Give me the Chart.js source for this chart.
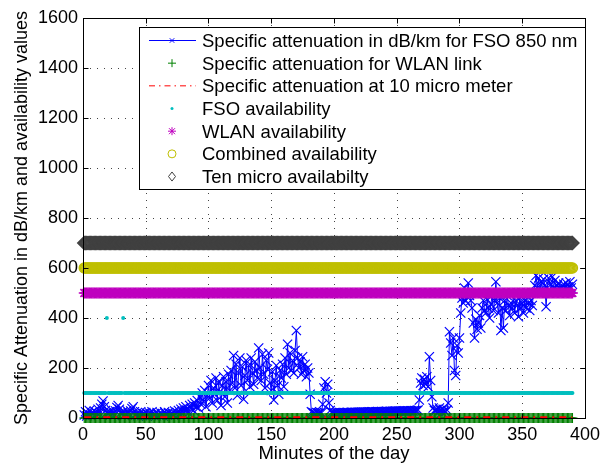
<!DOCTYPE html>
<html>
<head>
<meta charset="utf-8">
<script src="https://cdn.jsdelivr.net/npm/chart.js@4"></script>
<style>
  body { margin: 0; background: #fff; }
  canvas { display: block; }
</style>
</head>
<body>
<canvas id="chart" width="606" height="469"></canvas>
<script>
// specific attenuation for FSO 850 nm, one value per minute (minute 1 .. 390)
var fsoAtten = [
  12, 25, 8, 18, 30, 10, 22, 15, 28, 12,
  20, 35, 18, 40, 55, 68, 45, 30, 22, 15,
  25, 12, 30, 18, 10, 28, 42, 50, 35, 20,
  15, 25, 10, 18, 30, 22, 12, 28, 38, 45,
  25, 12, 20, 8, 15, 25, 10, 18, 12, 22,
  8, 15, 20, 10, 25, 12, 18, 8, 22, 15,
  10, 20, 14, 8, 25, 18, 12, 22, 10, 16,
  20, 12, 28, 15, 22, 30, 18, 35, 25, 40,
  28, 45, 32, 20, 50, 38, 55, 30, 60, 45,
  70, 40, 85, 55, 100, 65, 110, 45, 90, 130,
  80, 150, 60, 120, 95, 160, 70, 140, 105, 50,
  130, 165, 85, 145, 60, 175, 110, 190, 140, 250,
  120, 215, 90, 180, 240, 130, 205, 75, 170, 230,
  150, 210, 125, 240, 180, 135, 225, 190, 160, 280,
  200, 150, 255, 175, 120, 230, 195, 260, 140, 110,
  185, 72, 150, 210, 130, 95, 190, 160, 215, 125,
  240, 175, 295, 200, 260, 190, 230, 180, 270, 350,
  240, 200, 225, 175, 245, 190, 215, 165, 200, 180,
  95, 25, 22, 20, 18, 22, 20, 19, 21, 20,
  55, 120, 145, 100, 135, 60, 30, 22, 20, 21,
  20, 21, 20, 22, 21, 20, 21, 22, 21, 22,
  22, 21, 22, 23, 22, 22, 23, 22, 23, 23,
  23, 24, 23, 24, 24, 23, 24, 25, 24, 25,
  25, 24, 25, 25, 26, 25, 25, 26, 25, 26,
  26, 27, 26, 26, 27, 26, 27, 27, 28, 27,
  27, 28, 28, 27, 28, 29, 28, 28, 29, 28,
  29, 29, 28, 30, 29, 30, 32, 72, 140, 160,
  130, 155, 135, 165, 125, 245, 150, 85, 40, 30,
  28, 35, 25, 40, 30, 22, 35, 28, 25, 32,
  60, 345, 300, 250, 320, 190, 170, 290, 260, 320,
  420, 480, 460, 520, 470, 500, 540, 490, 470, 440,
  380, 320, 395, 355, 380, 410, 360, 440, 470, 430,
  420, 475, 440, 400, 455, 490, 430, 470, 545, 460,
  420, 480, 350, 440, 360, 470, 430, 490, 450, 410,
  460, 440, 500, 420, 470, 450, 405, 480, 440, 460,
  420, 470, 440, 490, 460, 430, 470, 450, 500, 530,
  570, 520, 560, 500, 545, 510, 555, 530, 445, 520,
  560, 540, 505, 565, 520, 550, 510, 530, 540, 515,
  525, 510, 535, 520, 540, 515, 525, 545, 520, 535
];

// the other series hold a level over runs of minutes: [first minute, last minute, value]
var wlanAttenRuns = [[1, 390, 0]];
var tenMicroAttenRuns = [[1, 390, 3]];
var fsoAvailRuns = [[1, 18, 100], [19, 19, 400], [20, 31, 100], [32, 32, 400], [33, 390, 100]];
var wlanAvailRuns = [[1, 390, 500]];
var combinedAvailRuns = [[1, 390, 600]];
var tenMicroAvailRuns = [[1, 390, 700]];

var seriesNames = [
  'Specific attenuation in dB/km for FSO 850 nm',
  'Specific attenuation for WLAN link',
  'Specific attenuation at 10 micro meter',
  'FSO availability',
  'WLAN availability',
  'Combined availability',
  'Ten micro availabilty'
];

var xTicks = [0, 50, 100, 150, 200, 250, 300, 350, 400];
var yTicks = [0, 200, 400, 600, 800, 1000, 1200, 1400, 1600];

var FONT = "'Liberation Sans', Arial, sans-serif";

function expandRuns(runs) {
  var out = [];
  runs.forEach(function (r) {
    for (var m = r[0]; m <= r[1]; m++) out.push({ x: m, y: r[2] });
  });
  return out;
}

var fsoPoints = fsoAtten.map(function (v, i) { return { x: i + 1, y: v }; });

// marker shapes used in the legend box
function drawMarker(ctx, kind, x, y, r, color) {
  ctx.save();
  ctx.strokeStyle = color;
  ctx.fillStyle = color;
  ctx.lineWidth = 1;
  ctx.setLineDash([]);
  ctx.beginPath();
  if (kind === 'x' || kind === '*') {
    var d = r * 0.75;
    ctx.moveTo(x - d, y - d); ctx.lineTo(x + d, y + d);
    ctx.moveTo(x - d, y + d); ctx.lineTo(x + d, y - d);
  }
  if (kind === '+' || kind === '*') {
    ctx.moveTo(x - r, y); ctx.lineTo(x + r, y);
    ctx.moveTo(x, y - r); ctx.lineTo(x, y + r);
  }
  if (kind === 'o') {
    ctx.arc(x, y, r, 0, Math.PI * 2);
  }
  if (kind === 'd') {
    ctx.moveTo(x, y - r * 1.3); ctx.lineTo(x + r, y);
    ctx.lineTo(x, y + r * 1.3); ctx.lineTo(x - r, y); ctx.closePath();
  }
  if (kind === '.') {
    ctx.arc(x, y, r, 0, Math.PI * 2);
    ctx.fill();
  } else {
    ctx.stroke();
  }
  ctx.restore();
}

var legendRows = [
  { line: '#0000ff', dash: [], marker: 'x', r: 3, color: '#0000ff' },
  { line: null, marker: '+', r: 4, color: '#008000' },
  { line: '#ff0000', dash: [6, 4, 1.5, 4], marker: null, color: '#ff0000' },
  { line: null, marker: '.', r: 1.5, color: '#00bfbf' },
  { line: null, marker: '*', r: 4, color: '#bf00bf' },
  { line: null, marker: 'o', r: 4, color: '#bfbf00' },
  { line: null, marker: 'd', r: 3.5, color: '#404040' }
];

var matlabAxes = {
  id: 'matlabAxes',
  beforeDatasetsDraw: function (chart) {
    var ctx = chart.ctx, a = chart.chartArea;
    var xs = chart.scales.x, ys = chart.scales.y;
    ctx.save();
    ctx.strokeStyle = '#444';
    ctx.lineWidth = 1;
    ctx.setLineDash([1, 6]);
    xTicks.forEach(function (v) {
      if (v <= xs.min || v >= xs.max) return;
      var px = Math.round(xs.getPixelForValue(v)) + 0.5;
      ctx.beginPath(); ctx.moveTo(px, a.bottom); ctx.lineTo(px, a.top); ctx.stroke();
    });
    yTicks.forEach(function (v) {
      if (v <= ys.min || v >= ys.max) return;
      var py = Math.round(ys.getPixelForValue(v)) + 0.5;
      ctx.beginPath(); ctx.moveTo(a.left, py); ctx.lineTo(a.right, py); ctx.stroke();
    });
    ctx.restore();
  },
  afterDatasetsDraw: function (chart) {
    var ctx = chart.ctx, a = chart.chartArea;
    var xs = chart.scales.x, ys = chart.scales.y;
    var L = Math.round(a.left) + 0.5, R = Math.round(a.right) + 0.5;
    var T = Math.round(a.top) + 0.5, B = Math.round(a.bottom) + 0.5;
    ctx.save();
    ctx.strokeStyle = '#000';
    ctx.lineWidth = 1;
    ctx.strokeRect(L, T, R - L, B - T);
    // inward tick marks on all four sides
    ctx.beginPath();
    xTicks.forEach(function (v) {
      var px = Math.round(xs.getPixelForValue(v)) + 0.5;
      ctx.moveTo(px, B); ctx.lineTo(px, B - 5);
      ctx.moveTo(px, T); ctx.lineTo(px, T + 5);
    });
    yTicks.forEach(function (v) {
      var py = Math.round(ys.getPixelForValue(v)) + 0.5;
      ctx.moveTo(L, py); ctx.lineTo(L + 5, py);
      ctx.moveTo(R, py); ctx.lineTo(R - 5, py);
    });
    ctx.stroke();
    ctx.restore();
  },
  afterDraw: function (chart) {
    var ctx = chart.ctx;
    var box = { x: 139.5, y: 27.5, w: 446, h: 162 };
    ctx.save();
    ctx.fillStyle = '#fff';
    ctx.fillRect(box.x, box.y, box.w, box.h);
    ctx.strokeStyle = '#000';
    ctx.lineWidth = 1;
    ctx.strokeRect(box.x, box.y, box.w, box.h);
    ctx.font = '18.5px ' + FONT;
    ctx.textBaseline = 'alphabetic';
    ctx.textAlign = 'left';
    legendRows.forEach(function (row, i) {
      var base = 47 + i * 22.67;
      var my = base - 6.5;
      if (row.line) {
        ctx.save();
        ctx.strokeStyle = row.line;
        ctx.lineWidth = 1;
        ctx.setLineDash(row.dash);
        ctx.beginPath(); ctx.moveTo(149, my); ctx.lineTo(196, my); ctx.stroke();
        ctx.restore();
      }
      if (row.marker) drawMarker(ctx, row.marker, 172, my, row.r, row.color);
      ctx.fillStyle = '#000';
      ctx.fillText(seriesNames[i], 202, base);
    });
    ctx.restore();
  }
};

var ctx = document.getElementById('chart');
var chart = new Chart(ctx, {
  type: 'line',
  data: {
    datasets: [{
      label: seriesNames[0],
      data: fsoPoints,
      borderColor: '#0000ff',
      borderWidth: 1,
      pointStyle: 'crossRot',
      pointRadius: 6.5,
      pointBorderWidth: 1.2,
      pointBorderColor: '#0000ff',
      tension: 0,
      clip: false,
      order: 6
    }, {
      label: seriesNames[1],
      data: expandRuns(wlanAttenRuns),
      showLine: false,
      pointStyle: 'cross',
      pointRadius: 5,
      pointBorderWidth: 1.2,
      pointBorderColor: '#008000',
      clip: false,
      order: 5
    }, {
      label: seriesNames[2],
      data: expandRuns(tenMicroAttenRuns),
      borderColor: '#ff0000',
      borderWidth: 2,
      borderDash: [7, 5, 2, 5],
      pointRadius: 0,
      clip: false,
      order: 4
    }, {
      label: seriesNames[3],
      data: expandRuns(fsoAvailRuns),
      showLine: false,
      pointStyle: 'circle',
      pointRadius: 2,
      pointBorderWidth: 0,
      pointBackgroundColor: '#00bfbf',
      clip: false,
      order: 3
    }, {
      label: seriesNames[4],
      data: expandRuns(wlanAvailRuns),
      showLine: false,
      pointStyle: 'star',
      pointRadius: 5.5,
      pointBorderWidth: 1.5,
      pointBorderColor: '#bf00bf',
      clip: false,
      order: 2
    }, {
      label: seriesNames[5],
      data: expandRuns(combinedAvailRuns),
      showLine: false,
      pointStyle: 'circle',
      pointRadius: 5,
      pointBorderWidth: 1.5,
      pointBorderColor: '#bfbf00',
      pointBackgroundColor: 'rgba(0,0,0,0)',
      clip: false,
      order: 1
    }, {
      label: seriesNames[6],
      data: expandRuns(tenMicroAvailRuns),
      showLine: false,
      pointStyle: 'rectRot',
      pointRadius: 6.5,
      pointBorderWidth: 1.5,
      pointBorderColor: '#404040',
      pointBackgroundColor: 'rgba(0,0,0,0)',
      clip: false,
      order: 0
    }]
  },
  options: {
    responsive: false,
    animation: false,
    events: [],
    layout: { padding: { left: 0, right: 17, top: 18, bottom: 0 } },
    plugins: {
      legend: { display: false },
      tooltip: { enabled: false }
    },
    scales: {
      x: {
        type: 'linear',
        min: 0,
        max: 400,
        afterBuildTicks: function (s) { s.ticks = xTicks.map(function (v) { return { value: v }; }); },
        afterFit: function (s) { s.height = 51; },
        grid: { display: false, drawTicks: false },
        border: { display: false },
        ticks: { color: '#000', padding: 6, maxRotation: 0, font: { family: FONT, size: 18 }, callback: function (v) { return String(v); } },
        title: { display: true, text: 'Minutes of the day', color: '#000', padding: { top: 0, bottom: 4 }, font: { family: FONT, size: 18.5 } }
      },
      y: {
        min: 0,
        max: 1600,
        afterBuildTicks: function (s) { s.ticks = yTicks.map(function (v) { return { value: v }; }); },
        afterFit: function (s) { s.width = 83; },
        grid: { display: false, drawTicks: false },
        border: { display: false },
        ticks: { color: '#000', padding: 5, font: { family: FONT, size: 18 }, callback: function (v) { return String(v); } },
        title: { display: true, text: 'Specific Attenuation in dB/km and availability values', color: '#000', padding: { top: 11, bottom: 0 }, font: { family: FONT, size: 18 } }
      }
    }
  },
  plugins: [matlabAxes]
});
</script>
</body>
</html>
